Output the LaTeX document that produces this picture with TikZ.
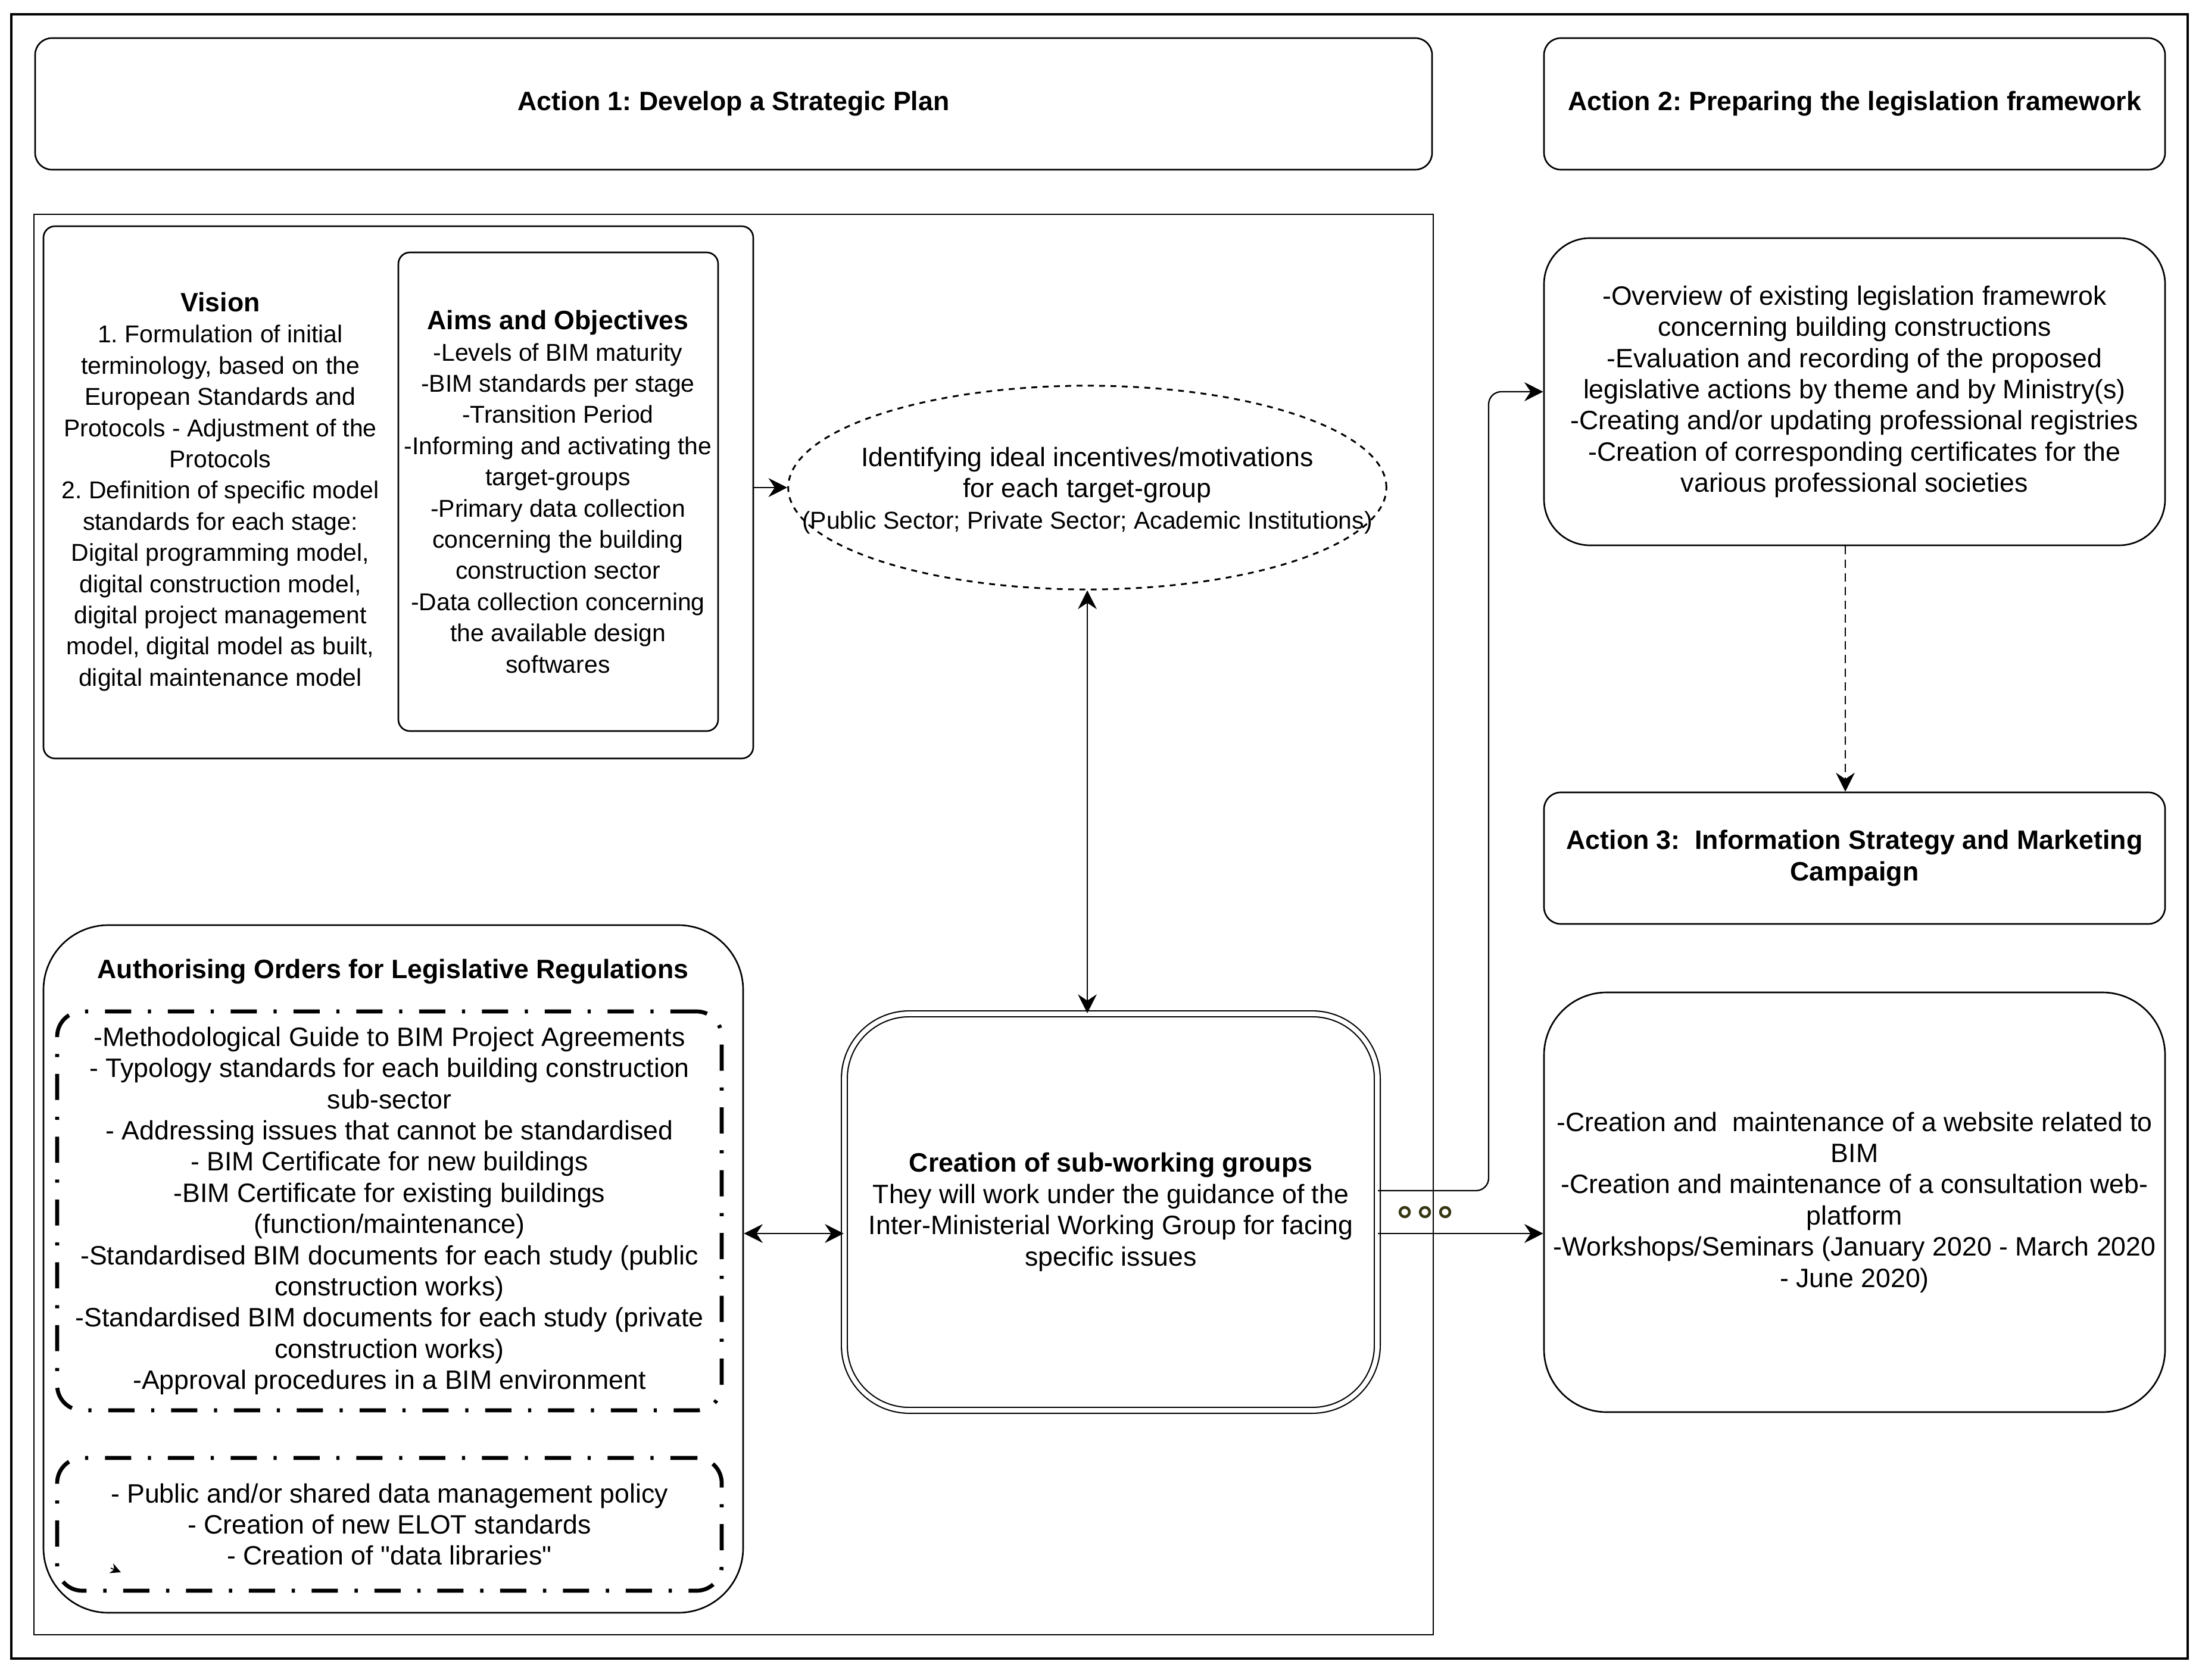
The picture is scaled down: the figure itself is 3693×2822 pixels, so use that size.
\documentclass[tikz,border=0pt]{standalone}
\usepackage{fontspec}
\setmainfont{Liberation Sans}[Ligatures=TeXOff]
\usetikzlibrary{arrows.meta,shapes.geometric}
\frenchspacing
\newcommand{\bx}[7]{%
 \pgfmathsetmacro{\bxcx}{(#2+#4)/2}%
 \pgfmathsetmacro{\bxcy}{(#3+#5)/2}%
 \pgfmathsetmacro{\bxw}{(#4-#2)*0.01}%
 \pgfmathsetmacro{\bxh}{(#5-#3)*0.01}%
 \node[#6, minimum width=\bxw cm, minimum height=\bxh cm] (#1) at (\bxcx,\bxcy) {#7};}
\definecolor{olivedot}{RGB}{55,55,20}
\begin{document}
\frenchspacing
\begin{tikzpicture}[x=0.01cm,y=-0.01cm,
  font=\fontsize{12.7pt}{14.9pt}\selectfont\frenchspacing,
  box/.style={draw, line width=0.75pt, inner sep=0pt, align=center},
  txt/.style={align=center, inner sep=0pt},
  smalltxt/.style={align=center, inner sep=0pt, font=\fontsize{11.64pt}{14.9pt}\selectfont\frenchspacing},
  arr/.style={line width=0.65pt, -{Stealth[length=9pt,width=9pt,inset=3pt]}},
  dbl/.style={line width=0.65pt, {Stealth[length=9pt,width=9pt,inset=3pt]}-{Stealth[length=9pt,width=9pt,inset=3pt]}},
  dashdot/.style={draw, line width=1.9pt, dash pattern=on 12.5pt off 8pt on 1.5pt off 8pt, rounded corners=12pt, inner sep=0pt, align=center},
  dotring/.style={circle, draw=olivedot, fill=white, line width=1.3pt, minimum size=4.5pt, inner sep=0pt}
]
\useasboundingbox (0,0) rectangle (3693,2822);
\fill[white] (0,0) rectangle (3693,2822);

\bx{frame}{19}{24}{3674}{2786}{box, line width=1.3pt}{}
\bx{act1}{59}{64}{2405}{285}{box, rounded corners=8pt}{\textbf{Action 1: Develop a Strategic Plan}}
\bx{act2}{2593}{64}{3636}{285}{box, rounded corners=8pt}{\textbf{Action 2: Preparing the legislation framework}}
\bx{main}{57}{360}{2407}{2746}{box}{}
\bx{vis}{73}{380}{1265}{1274}{box, rounded corners=5.5pt}{}
\bx{aims}{669}{424}{1206}{1228}{box, rounded corners=5.5pt}{}
\node[smalltxt] (aimstext) at (937,826) {{\fontsize{12.7pt}{14.9pt}\selectfont\textbf{Aims and Objectives}}\\-Levels of BIM maturity\\-BIM standards per stage\\-Transition Period\\-Informing and activating the\\target-groups\\-Primary data collection\\concerning the building\\construction sector\\-Data collection concerning\\the available design\\softwares};
\node[smalltxt] (vistext) at (370,826) {{\fontsize{12.7pt}{14.9pt}\selectfont\textbf{Vision}}\\1. Formulation of initial\\terminology, based on the\\European Standards and\\Protocols - Adjustment of the\\Protocols\\2. Definition of specific model\\standards for each stage:\\Digital programming model,\\digital construction model,\\digital project management\\model, digital model as built,\\digital maintenance model};

\node[ellipse, draw, line width=0.85pt, dash pattern=on 2.8pt off 2.6pt, minimum width=10.04cm, minimum height=3.42cm, inner sep=0pt] (ell) at (1826,819) {};
\node[txt] (elltext) at (1826,824) {Identifying ideal incentives/motivations\\for each target-group\\{\fontsize{11.64pt}{14.9pt}\selectfont (Public Sector; Private Sector; Academic Institutions)}};

\bx{sub}{1418}{1703}{2313}{2369}{box, double, double distance=2.2pt, line width=0.6pt, rounded corners=31pt}{\textbf{Creation of sub-working groups}\\They will work under the guidance of the\\Inter-Ministerial Working Group for facing\\specific issues}

\bx{auth}{73}{1554}{1248}{2709}{box, rounded corners=31pt}{}
\node[txt] (authtitle) at (660,1632) {\textbf{Authorising Orders for Legislative Regulations}};
\bx{dd1}{96}{1699}{1212}{2369}{dashdot}{-Methodological Guide to BIM Project Agreements\\- Typology standards for each building construction\\sub-sector\\- Addressing issues that cannot be standardised\\- BIM Certificate for new buildings\\-BIM Certificate for existing buildings\\(function/maintenance)\\-Standardised BIM documents for each study (public\\construction works)\\-Standardised BIM documents for each study (private\\construction works)\\-Approval procedures in a BIM environment}
\bx{dd2}{96}{2449}{1212}{2672}{dashdot}{- Public and/or shared data management policy\\- Creation of new ELOT standards\\- Creation of "data libraries"}

\bx{leg}{2593}{400}{3636}{916}{box, rounded corners=22pt}{-Overview of existing legislation framewrok\\concerning building constructions\\-Evaluation and recording of the proposed\\legislative actions by theme and by Ministry(s)\\-Creating and/or updating professional registries\\-Creation of corresponding certificates for the\\various professional societies}
\bx{act3}{2593}{1331}{3636}{1552}{box, rounded corners=8pt}{\textbf{Action 3:\ \ Information Strategy and Marketing}\\\textbf{Campaign}}
\bx{web}{2593}{1667}{3636}{2372}{box, rounded corners=30pt}{-Creation and\ \ maintenance of a website related to\\BIM\\-Creation and maintenance of a consultation web-\\platform\\-Workshops/Seminars (January 2020 - March 2020\\- June 2020)}

% connectors
\draw[arr] (ell.west -| vis.east) -- (ell.west);
\draw[dbl] (ell.south) -- (ell.south |- sub.north);
\coordinate (lvl) at (1340,2072);
\draw[dbl] (lvl -| auth.east) -- (lvl -| sub.west);
\draw[arr] (lvl -| sub.east) -- (lvl -| web.west);
\coordinate (elb) at (2500,2000);
\draw[arr, rounded corners=6pt] (elb -| sub.east) -- (elb) |- (leg.west);
\coordinate (dotx) at (3099,1100);
\draw[arr, dash pattern=on 4pt off 2.5pt] (dotx |- leg.south) -- (dotx |- act3.north);

% waypoint markers
\node[dotring] (m1) at (2359,2036) {};
\node[dotring] (m2) at (2393,2036) {};
\node[dotring] (m3) at (2427,2036) {};

% tiny stray arrow mark
\coordinate (sa) at (186,2634);
\coordinate (sb) at (203,2641);
\draw[line width=0.5pt, -{Stealth[length=5pt,width=5pt]}] (sa) -- (sb);
\end{tikzpicture}
\end{document}
